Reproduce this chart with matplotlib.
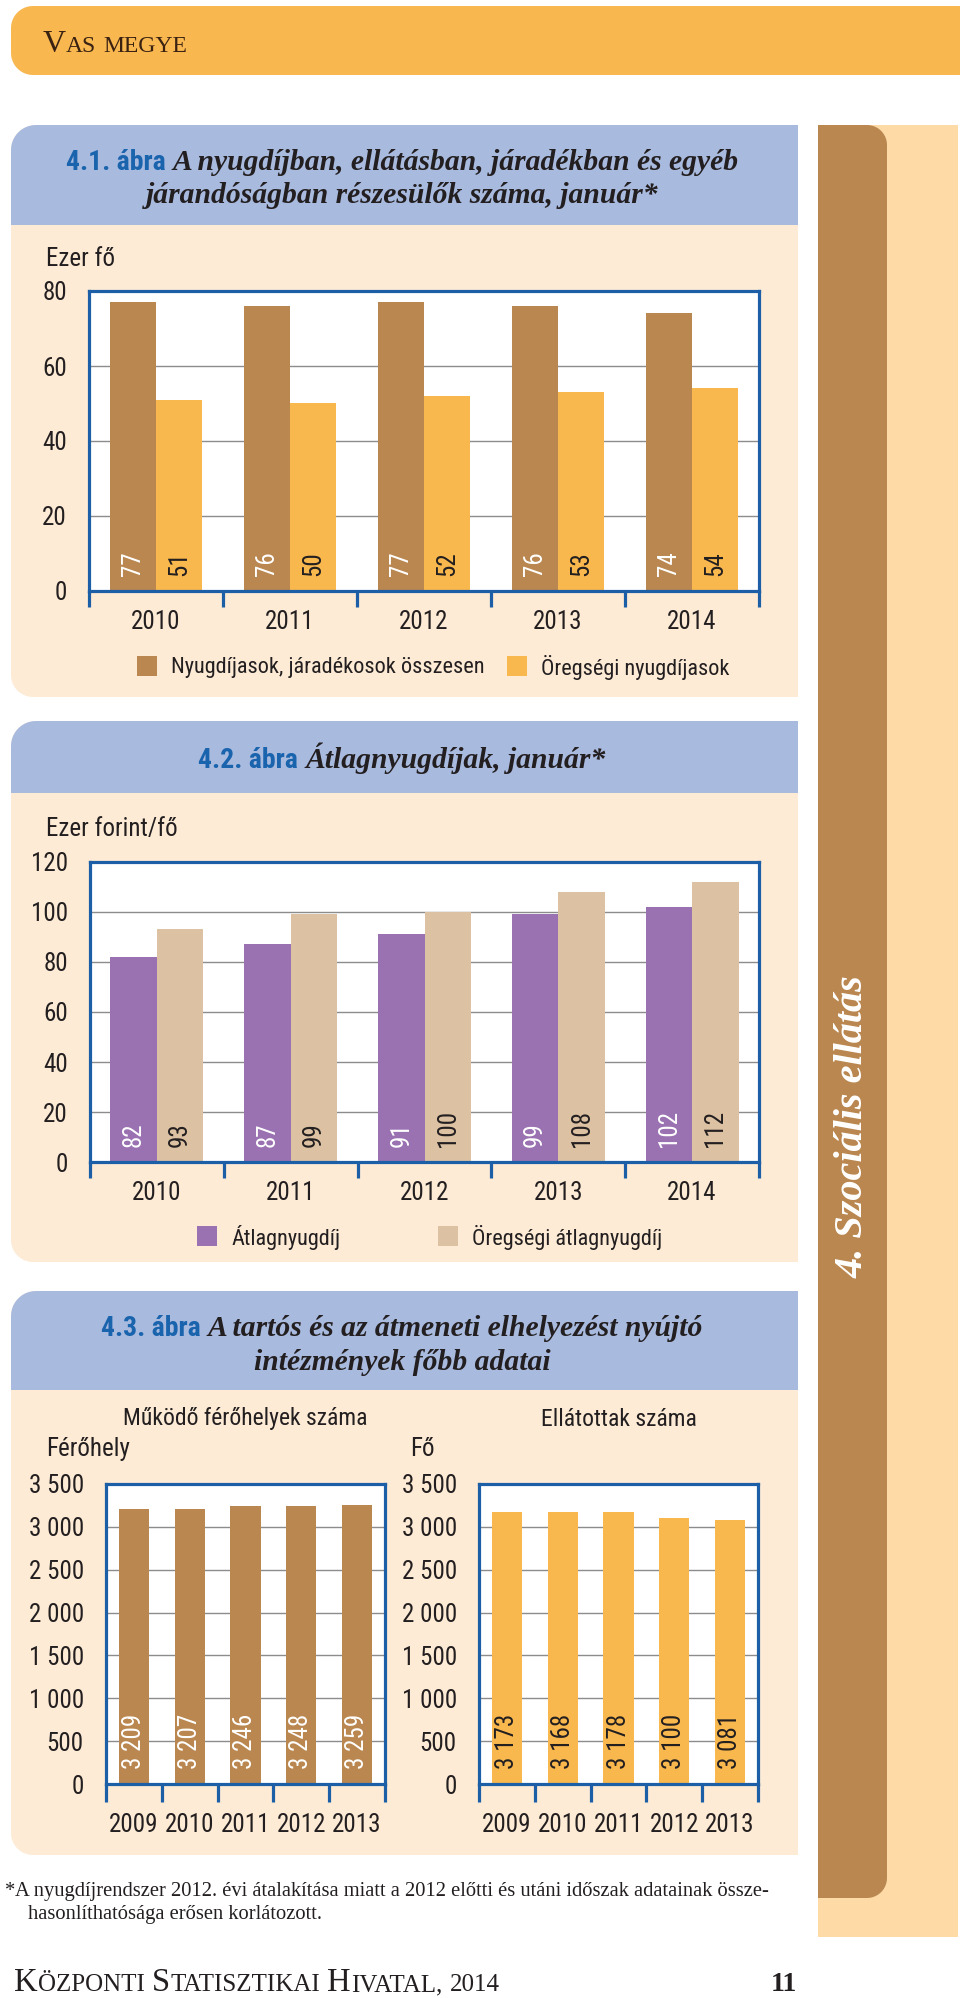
import numpy as np
import matplotlib
matplotlib.use('Agg')
import matplotlib.pyplot as plt
from matplotlib import font_manager as fm
from matplotlib.patches import Polygon, Rectangle

W, H = 960, 1998

# --- data ---
years_a = ['2010', '2011', '2012', '2013', '2014']
nyugdijasok = [77, 76, 77, 76, 74]      # Nyugdíjasok, járadékosok összesen
oregsegi = [51, 50, 52, 53, 54]         # Öregségi nyugdíjasok
atlag = [82, 87, 91, 99, 102]           # Átlagnyugdíj
oregsegi_atlag = [93, 99, 100, 108, 112]

years_b = ['2009', '2010', '2011', '2012', '2013']
ferohely = [3209, 3207, 3246, 3248, 3259]
ellatottak = [3173, 3168, 3178, 3100, 3081]

# colours
BROWN = '#b9874f'
ORANGE = '#f9b84e'
PURPLE = '#9a72b2'
TAN = '#dcc2a2'
BLUE = '#1d5fa6'
TITLE_BLUE = '#1a64ae'
HEAD = '#a9badf'
CREAM = '#fdebd5'
PEACH = '#fddaa6'
BANNER = '#f8b74f'
TXT = '#231f20'
GRID = '#8c8c8c'

# fonts: a narrow sans if there is one, else Liberation Sans a bit smaller
names = {f.name for f in fm.fontManager.ttflist}
SANS = next((n for n in ['Roboto Condensed', 'Liberation Sans Narrow', 'DejaVu Sans Condensed']
             if n in names), None)
FS = 18
if SANS is None:
    SANS = 'Liberation Sans' if 'Liberation Sans' in names else 'DejaVu Sans'
    FS = 16
SERIF = 'Liberation Serif' if 'Liberation Serif' in names else 'DejaVu Serif'
plt.rcParams['font.family'] = [SANS, 'DejaVu Sans']

fig = plt.figure(figsize=(W / 100, H / 100), dpi=100, facecolor='white')
bg = fig.add_axes([0, 0, 1, 1])
bg.set_xlim(0, W)
bg.set_ylim(H, 0)
bg.axis('off')
R = fig.canvas.get_renderer()


def rbox(x0, y0, x1, y1, color, tl=0, tr=0, br=0, bl=0):
    pts = []

    def arc(cx, cy, r, a0, a1):
        for t in np.linspace(a0, a1, 12):
            pts.append((cx + r * np.cos(t), cy + r * np.sin(t)))
    arc(x0 + tl, y0 + tl, tl, np.pi, 1.5 * np.pi)
    arc(x1 - tr, y0 + tr, tr, 1.5 * np.pi, 2 * np.pi)
    arc(x1 - br, y1 - br, br, 0, 0.5 * np.pi)
    arc(x0 + bl, y1 - bl, bl, 0.5 * np.pi, np.pi)
    bg.add_patch(Polygon(pts, closed=True, fc=color, ec='none'))


def small_caps(x, y, text, big, small, **kw):
    cx = x
    for wi, word in enumerate(text.split(' ')):
        if wi:
            cx += small * 0.3 * 100 / 72
        groups = []
        for ch in word:
            sz = big if ch.isupper() else small
            if groups and groups[-1][1] == sz:
                groups[-1][0] += ch.upper()
            else:
                groups.append([ch.upper(), sz])
        for s, sz in groups:
            t = bg.text(cx, y, s, fontsize=sz, va='baseline', ha='left', **kw)
            cx += t.get_window_extent(R).width


def title_line(xc, y, parts, gap=7):
    arts, ws = [], []
    for s, kw in parts:
        t = bg.text(0, y, s, va='baseline', ha='left', **kw)
        arts.append(t)
        ws.append(t.get_window_extent(R).width)
    cx = xc - (sum(ws) + gap * (len(ws) - 1)) / 2
    for t, w in zip(arts, ws):
        t.set_x(cx)
        cx += w + gap


def legend(y, items):
    end = 0
    for xs, color, label in items:
        xs = max(xs, end + 22)
        bg.add_patch(Rectangle((xs, y - 10), 20, 20, fc=color, ec='none'))
        t = bg.text(xs + 34, y + 1, label, va='center', ha='left', fontsize=FS - 2, color=TXT)
        end = xs + 34 + t.get_window_extent(R).width


def add_chart(box, cats, series, colors, lab_colors, ymax, step, fmt, width, xpad, ticklen):
    x0, y0, x1, y1 = box
    ax = fig.add_axes([x0 / W, 1 - y1 / H, (x1 - x0) / W, (y1 - y0) / H])
    ax.set_facecolor('white')
    x = np.arange(len(cats))
    n = len(series)
    for k, (vals, c, lc) in enumerate(zip(series, colors, lab_colors)):
        off = (k - (n - 1) / 2) * width
        ax.bar(x + off, vals, width, color=c, zorder=2)
        for xi, v in zip(x + off, vals):
            ax.annotate(fmt(v), (xi, 0), xytext=(0, 10.5), textcoords='offset points',
                        rotation=90, ha='center', va='bottom', color=lc, fontsize=FS, zorder=3)
    ax.set_xlim(-0.5, len(cats) - 0.5)
    ax.set_ylim(0, ymax)
    yt = np.arange(0, ymax + 1, step)
    ax.set_yticks(yt)
    ax.set_yticklabels([fmt(v) for v in yt])
    ax.tick_params(axis='y', length=0, pad=16, labelsize=FS, labelcolor=TXT)
    ax.set_xticks(x)
    ax.set_xticklabels(cats)
    ax.set_xticks(np.arange(-0.5, len(cats)), minor=True)
    ax.tick_params(axis='x', which='major', length=0, pad=xpad, labelsize=FS, labelcolor=TXT)
    ax.tick_params(axis='x', which='minor', length=ticklen, width=2.3, color=BLUE, direction='out')
    ax.yaxis.grid(True, color=GRID, lw=1, zorder=1)
    ax.set_axisbelow(True)
    for s in ax.spines.values():
        s.set_color(BLUE)
        s.set_linewidth(2.3)
        s.set_zorder(4)
    return ax


# --- page background ---
rbox(11, 6, 960, 75, BANNER, tl=22, bl=22)
small_caps(43, 52, 'Vas megye', 23, 17, family=SERIF, color='#3a2212')

rbox(818, 125, 958, 1937, PEACH)
rbox(818, 125, 887, 1898, BROWN, tr=20, br=20)
bg.text(853, 1127, '4. Szociális ellátás', rotation=90, ha='center', va='center', color='white',
        family=SERIF, style='italic', weight='bold', fontsize=29)

for top, hb, bottom in [(125, 225, 697), (721, 793, 1262), (1291, 1390, 1855)]:
    rbox(11, top, 798, bottom, CREAM, tl=25, bl=22)
    rbox(11, top, 798, hb, HEAD, tl=25)

NUM = dict(family=SANS, weight='bold', color=TITLE_BLUE, fontsize=20)
TT = dict(family=SERIF, style='italic', weight='bold', color=TXT, fontsize=21.3)

# --- 4.1 ---
title_line(402, 170, [('4.1. ábra', NUM), ('A nyugdíjban, ellátásban, járadékban és egyéb', TT)])
title_line(402, 203, [('járandóságban részesülők száma, január*', TT)])
bg.text(46, 259, 'Ezer fő', va='center', ha='left', fontsize=FS, color=TXT)
add_chart((89, 291, 759, 591), years_a, [nyugdijasok, oregsegi], [BROWN, ORANGE],
          ['white', TXT], 80, 20, lambda v: f'{v:g}', 0.347, 13.5, 11.5)
legend(666, [(137, BROWN, 'Nyugdíjasok, járadékosok összesen'),
             (498, ORANGE, 'Öregségi nyugdíjasok')])

# --- 4.2 ---
title_line(402, 768, [('4.2. ábra', NUM), ('Átlagnyugdíjak, január*', TT)])
bg.text(46, 829, 'Ezer forint/fő', va='center', ha='left', fontsize=FS, color=TXT)
add_chart((90, 862, 759, 1162), years_a, [atlag, oregsegi_atlag], [PURPLE, TAN],
          ['white', TXT], 120, 20, lambda v: f'{v:g}', 0.347, 13.5, 11.5)
legend(1236, [(197, PURPLE, 'Átlagnyugdíj'),
              (438, TAN, 'Öregségi átlagnyugdíj')])

# --- 4.3 ---
title_line(402, 1336, [('4.3. ábra', NUM), ('A tartós és az átmeneti elhelyezést nyújtó', TT)])
title_line(402, 1370, [('intézmények főbb adatai', TT)])
sp = lambda v: f'{int(v):,}'.replace(',', ' ')
bg.text(245, 1419, 'Működő férőhelyek száma', va='center', ha='center', fontsize=FS - 1, color=TXT)
bg.text(619, 1419, 'Ellátottak száma', va='center', ha='center', fontsize=FS - 1, color=TXT)
bg.text(46, 1449, 'Férőhely', va='center', ha='left', fontsize=FS, color=TXT)
bg.text(410, 1449, 'Fő', va='center', ha='left', fontsize=FS, color=TXT)
add_chart((106, 1484, 385, 1784), years_b, [ferohely], [BROWN], ['white'], 3500, 500, sp,
          0.54, 21, 13)
add_chart((479, 1484, 758, 1784), years_b, [ellatottak], [ORANGE], [TXT], 3500, 500, sp,
          0.54, 21, 13)

# --- footnote and footer ---
FN = dict(family=SERIF, fontsize=14.8, color=TXT, va='baseline', ha='left')
bg.text(5, 1896, '*', **FN)
bg.text(15, 1896, 'A nyugdíjrendszer 2012. évi átalakítása miatt a 2012 előtti és utáni időszak adatainak össze-', **FN)
bg.text(28, 1919, 'hasonlíthatósága erősen korlátozott.', **FN)
small_caps(14, 1991, 'Központi Statisztikai Hivatal, 2014', 23.5, 18, family=SERIF, color=TXT)
bg.text(797, 1991, '11', ha='right', va='baseline', family=SERIF, weight='bold', fontsize=20, color=TXT)

fig.savefig('out.png', dpi=100, facecolor='white')
